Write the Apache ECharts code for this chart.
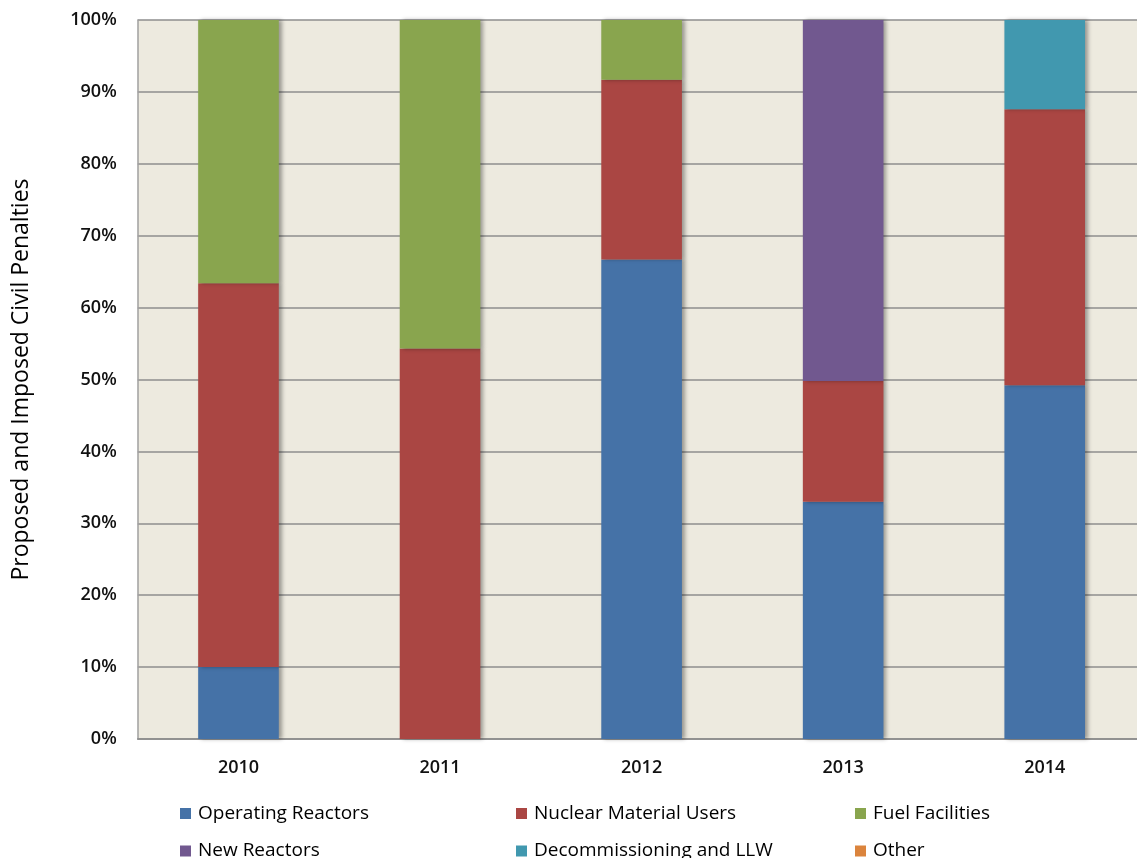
<!DOCTYPE html>
<html>
<head>
<meta charset="utf-8">
<script src="https://cdn.jsdelivr.net/npm/echarts@6/dist/echarts.min.js"></script>
<style>
  html, body { margin: 0; padding: 0; background: #ffffff; }
  #chart { width: 1137px; height: 858px; }
</style>
</head>
<body>
<div id="chart"></div>
<script>
// Share of proposed and imposed civil penalties by licensee type, per year (%)
const years = ['2010', '2011', '2012', '2013', '2014'];
const operatingReactors      = [10.0, 0.0, 66.7, 33.0, 49.2];
const nuclearMaterialUsers   = [53.4, 54.3, 25.0, 16.8, 38.4];
const fuelFacilities         = [36.6, 45.7, 8.3, 0.0, 0.0];
const newReactors            = [0.0, 0.0, 0.0, 50.2, 0.0];
const decommissioningLLW     = [0.0, 0.0, 0.0, 0.0, 12.4];
const other                  = [0.0, 0.0, 0.0, 0.0, 0.0];
const yTicks = [0, 10, 20, 30, 40, 50, 60, 70, 80, 90, 100];

const seriesDefs = [
  { name: 'Operating Reactors',       data: operatingReactors,    color: '#4572A7' },
  { name: 'Nuclear Material Users',   data: nuclearMaterialUsers, color: '#AA4643' },
  { name: 'Fuel Facilities',          data: fuelFacilities,       color: '#89A54E' },
  { name: 'New Reactors',             data: newReactors,          color: '#71588F' },
  { name: 'Decommissioning and LLW',  data: decommissioningLLW,   color: '#4198AF' },
  { name: 'Other',                    data: other,                color: '#DB843D' }
];

const font = '"Open Sans", "Noto Sans", sans-serif';

// Legend laid out as a 3-column, 2-row table: one legend box per entry
const legendSlots = [
  { name: 'Operating Reactors',      left: 180, top: 802.5 },
  { name: 'Nuclear Material Users',  left: 516, top: 802.5 },
  { name: 'Fuel Facilities',         left: 855, top: 802.5 },
  { name: 'New Reactors',            left: 180, top: 840 },
  { name: 'Decommissioning and LLW', left: 516, top: 840 },
  { name: 'Other',                   left: 855, top: 840 }
];

const chart = echarts.init(document.getElementById('chart'), null, { renderer: 'canvas' });

chart.setOption({
  animation: false,
  color: seriesDefs.map(s => s.color),
  grid: {
    left: 137.7, right: -8.5, top: 20, bottom: 119,
    outerBoundsMode: 'none',
    show: true, backgroundColor: '#EDEADF', borderWidth: 0,
    containLabel: false
  },
  legend: legendSlots.map(slot => ({
    data: [slot.name],
    left: slot.left,
    top: slot.top,
    padding: 0,
    itemWidth: 11,
    itemHeight: 11,
    icon: 'rect',
    selectedMode: false,
    textStyle: { fontFamily: font, fontSize: 19, lineHeight: 22, color: '#000', padding: [0, 0, 0, 2] }
  })),
  xAxis: {
    type: 'category',
    data: years,
    axisLine: { show: true, lineStyle: { color: '#8a8a8a', width: 1.5 } },
    axisTick: { show: false },
    axisLabel: { fontFamily: font, fontSize: 18, fontWeight: 600, color: '#111', margin: 20 }
  },
  yAxis: {
    type: 'value',
    min: yTicks[0],
    max: yTicks[yTicks.length - 1],
    interval: yTicks[1] - yTicks[0],
    name: 'Proposed and Imposed Civil Penalties',
    nameLocation: 'middle',
    nameGap: 105,
    nameTextStyle: { fontFamily: font, fontSize: 23, color: '#000' },
    axisLine: { show: true, lineStyle: { color: '#a0a0a0', width: 1.5 } },
    axisTick: { show: false },
    axisLabel: { fontFamily: font, fontSize: 18, fontWeight: 600, color: '#111', margin: 21,
                 formatter: v => v + '%' },
    splitLine: { show: true, lineStyle: { color: '#8e8e8e', width: 1.5 } }
  },
  series: seriesDefs.map(s => ({
    name: s.name,
    type: 'bar',
    stack: 'total',
    barWidth: '40%',
    data: s.data,
    itemStyle: {
      color: s.color,
      shadowColor: 'rgba(0,0,0,0.35)',
      shadowBlur: 4,
      shadowOffsetX: 3,
      shadowOffsetY: 0
    }
  }))
});
</script>
</body>
</html>
